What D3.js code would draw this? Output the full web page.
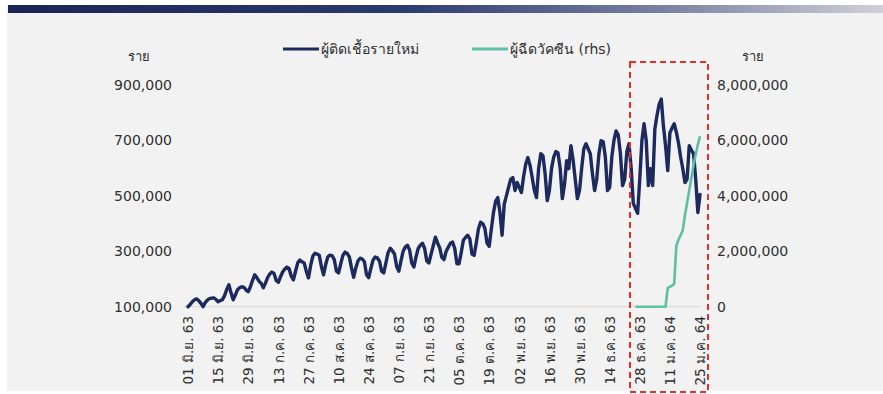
<!DOCTYPE html>
<html>
<head>
<meta charset="utf-8">
<script src="https://cdn.jsdelivr.net/npm/d3@7"></script>
<style>
  html, body { margin: 0; padding: 0; background: #ffffff; }
  svg { display: block; }
  text { font-family: "DejaVu Sans", "Noto Sans", sans-serif; }
</style>
</head>
<body>
<svg id="chart" width="883" height="394"></svg>
<script>
// Daily new infections worldwide (thousands), one value per day from 1 Jun 2020
const startDate = new Date(2020, 5, 1);
const newCasesThousands = [
  100,108,118,125,128,122,112,
  100,115,124,129,131,132,126,
  118,122,125,140,162,179,150,
  125,142,161,168,172,170,160,
  154,172,195,215,205,192,185,
  168,185,205,218,225,220,195,
  188,208,225,236,243,238,210,
  197,228,258,268,262,258,228,
  204,248,282,293,290,286,245,
  215,252,280,286,284,270,228,
  222,255,285,297,292,280,240,
  206,240,265,275,272,262,215,
  205,238,268,279,276,265,228,
  222,258,295,311,302,290,245,
  228,265,300,315,322,305,258,
  243,280,310,322,329,310,265,
  258,290,320,351,330,312,278,
  270,300,315,329,333,310,255,
  255,295,340,350,358,345,290,
  285,330,380,405,400,383,330,
  318,380,440,480,494,440,358,
  470,500,530,560,566,519,548,
  530,512,570,615,638,610,566,
  520,494,600,652,645,580,483,
  520,600,640,660,655,600,490,
  540,627,598,681,630,560,490,
  520,600,670,688,670,652,580,
  519,560,650,699,695,640,519,
  530,640,700,734,720,652,537,
  560,660,688,600,473,455,437,
  560,700,760,700,537,598,537,
  740,790,830,849,752,680,591,
  727,745,760,730,691,640,598,
  548,560,681,665,652,560,440,
  505
];

// People vaccinated (millions, right-hand axis), daily from 26 Dec 2020
const vaccineStart = new Date(2020, 11, 26);
const vaccinatedMillions = [
  0,0,0,0,0,0,0,0,0,0,0,0,0,0,0,
  0.68,0.72,0.76,0.82,2.2,2.42,2.58,2.76,
  3.3,3.75,4.2,4.65,5.1,5.5,5.85,6.15
];

// Category axis labels, every 14 days
const tickDates = [
  new Date(2020,5,1), new Date(2020,5,15), new Date(2020,5,29), new Date(2020,6,13),
  new Date(2020,6,27), new Date(2020,7,10), new Date(2020,7,24), new Date(2020,8,7),
  new Date(2020,8,21), new Date(2020,9,5), new Date(2020,9,19), new Date(2020,10,2),
  new Date(2020,10,16), new Date(2020,10,30), new Date(2020,11,14), new Date(2020,11,28),
  new Date(2021,0,11), new Date(2021,0,25)
];
const tickLabels = [
  "01 มิ.ย. 63","15 มิ.ย. 63","29 มิ.ย. 63","13 ก.ค. 63","27 ก.ค. 63","10 ส.ค. 63",
  "24 ส.ค. 63","07 ก.ย. 63","21 ก.ย. 63","05 ต.ค. 63","19 ต.ค. 63","02 พ.ย. 63",
  "16 พ.ย. 63","30 พ.ย. 63","14 ธ.ค. 63","28 ธ.ค. 63","11 ม.ค. 64","25 ม.ค. 64"
];
const leftTicks = [100, 300, 500, 700, 900];
const rightTicks = [0, 2, 4, 6, 8];
const seriesNames = ["ผู้ติดเชื้อรายใหม่", "ผู้ฉีดวัคซีน (rhs)"];
const unitLabel = "ราย";

const colors = { cases: "#1c2a5d", vaccine: "#5dbfa6", text: "#2f2f2f" };

const svg = d3.select("#chart");

// panel background and header band
svg.append("rect").attr("x", 7).attr("y", 5).attr("width", 876).attr("height", 386).attr("fill", "#f2f2f2");
const grad = svg.append("defs").append("linearGradient").attr("id", "band");
grad.append("stop").attr("offset", "0%").attr("stop-color", "#1b2456");
grad.append("stop").attr("offset", "45%").attr("stop-color", "#2b3a70");
grad.append("stop").attr("offset", "75%").attr("stop-color", "#7a82a2");
grad.append("stop").attr("offset", "100%").attr("stop-color", "#cfd1d8");
svg.append("rect").attr("x", 8).attr("y", 5).attr("width", 875).attr("height", 8).attr("fill", "url(#band)");

const dateOf = (start, i) => d3.timeDay.offset(start, i);

const x = d3.scaleTime()
  .domain([startDate, new Date(2021, 0, 25)])
  .range([188, 700]);
const yL = d3.scaleLinear().domain([100, 900]).range([306.7, 85]);
const yR = d3.scaleLinear().domain([0, 8]).range([306.7, 85]);

// baseline
svg.append("line")
  .attr("x1", 184).attr("x2", 701)
  .attr("y1", yL(100)).attr("y2", yL(100))
  .attr("stroke", "#d6d6d6").attr("stroke-width", 1);

// left axis
const leftAxis = svg.append("g").attr("transform", "translate(172,0)")
  .call(d3.axisLeft(yL).tickValues(leftTicks).tickSize(0).tickPadding(0)
    .tickFormat(v => d3.format(",")(v * 1000)));
leftAxis.select(".domain").remove();
leftAxis.selectAll("text").attr("font-size", 14).attr("fill", colors.text)
  .style("font-family", "'DejaVu Sans', sans-serif");

// right axis
const rightAxis = svg.append("g").attr("transform", "translate(717,0)")
  .call(d3.axisRight(yR).tickValues(rightTicks).tickSize(0).tickPadding(0)
    .tickFormat(v => d3.format(",")(v * 1e6)));
rightAxis.select(".domain").remove();
rightAxis.selectAll("text").attr("font-size", 14).attr("fill", colors.text)
  .style("font-family", "'DejaVu Sans', sans-serif");

// bottom axis with rotated date labels
const bottomAxis = svg.append("g").attr("transform", "translate(0,316)")
  .call(d3.axisBottom(x).tickValues(tickDates).tickSize(0).tickPadding(0)
    .tickFormat((d, i) => tickLabels[i]));
bottomAxis.select(".domain").remove();
bottomAxis.selectAll("text")
  .attr("font-size", 13.5).attr("fill", colors.text)
  .attr("text-anchor", "end")
  .attr("dy", "0.35em").attr("y", 0).attr("x", 0)
  .attr("transform", "rotate(-90)");

// unit labels
svg.append("text").attr("x", 139).attr("y", 61).attr("text-anchor", "middle")
  .attr("font-size", 13).attr("fill", colors.text).text(unitLabel);
svg.append("text").attr("x", 753).attr("y", 61).attr("text-anchor", "middle")
  .attr("font-size", 13).attr("fill", colors.text).text(unitLabel);

// series lines
const caseLine = d3.line()
  .x((d, i) => x(dateOf(startDate, i)))
  .y(d => yL(d));
svg.append("path").datum(newCasesThousands)
  .attr("d", caseLine).attr("fill", "none")
  .attr("stroke", colors.cases).attr("stroke-width", 3.4)
  .attr("stroke-linejoin", "round").attr("stroke-linecap", "round");

const vacLine = d3.line()
  .x((d, i) => x(dateOf(vaccineStart, i)))
  .y(d => yR(d));
svg.append("path").datum(vaccinatedMillions)
  .attr("d", vacLine).attr("fill", "none")
  .attr("stroke", colors.vaccine).attr("stroke-width", 2.6)
  .attr("stroke-linejoin", "round");

// legend
const legend = svg.append("g");
[[283, colors.cases], [472, colors.vaccine]].forEach(([lx, c], i) => {
  legend.append("line").attr("x1", lx).attr("x2", lx + 36).attr("y1", 49).attr("y2", 49)
    .attr("stroke", c).attr("stroke-width", 3);
  legend.append("text").attr("x", lx + 38).attr("y", 54)
    .attr("font-size", 14).attr("fill", colors.text).text(seriesNames[i]);
});

// highlighted vaccination period
svg.append("rect")
  .attr("x", 630).attr("y", 62).attr("width", 78).attr("height", 330)
  .attr("fill", "none").attr("stroke", "#e3302b").attr("stroke-width", 2)
  .attr("stroke-dasharray", "6,4");
</script>
</body>
</html>
